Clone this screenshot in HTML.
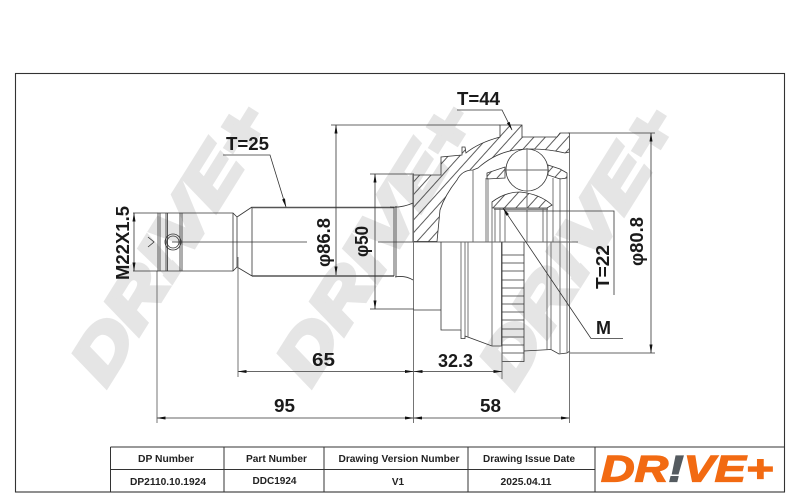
<!DOCTYPE html>
<html><head><meta charset="utf-8">
<style>
html,body{margin:0;padding:0;background:#fff;width:800px;height:493px;overflow:hidden}
svg{display:block}
text{font-family:"Liberation Sans",sans-serif}
.l{stroke:#333;stroke-width:.8}
.n{fill:none}
.g{fill:none;stroke:#666;stroke-width:.9}
.d{fill:none;stroke:#333;stroke-width:.8}
.t{font-size:18.5px;font-weight:bold;fill:#1a1a1a}
.c{font-size:10px;font-weight:bold;fill:#222;text-anchor:middle}
.w{font-size:65px;font-weight:bold;font-style:italic;fill:#e5e5e5;stroke:#e5e5e5;stroke-width:5}
</style></head><body>
<svg width="800" height="493" viewBox="0 0 800 493" xmlns="http://www.w3.org/2000/svg">
<defs>
<marker id="a" markerUnits="userSpaceOnUse" markerWidth="9" markerHeight="6" refX="8.5" refY="2.5" orient="auto-start-reverse"><path d="M0 1L9 2.5L0 4z" fill="#111"/></marker>
<pattern id="h" patternUnits="userSpaceOnUse" width="8.5" height="8.5" patternTransform="rotate(-48)"><path d="M0 4H8.5" stroke="#333" stroke-width=".8"/></pattern>
</defs>

<!-- watermarks -->
<text class="w" transform="translate(106,387) rotate(-58)" textLength="312" lengthAdjust="spacingAndGlyphs">DR!VE+</text>
<text class="w" transform="translate(311,387) rotate(-58)" textLength="312" lengthAdjust="spacingAndGlyphs">DR!VE+</text>
<text class="w" transform="translate(514,390) rotate(-58)" textLength="312" lengthAdjust="spacingAndGlyphs">DR!VE+</text>

<!-- frame -->
<rect x="15.500" y="73.500" width="769" height="418.500" fill="none" stroke="#333" stroke-width="1.1"/>

<!-- stud -->
<path class="g" d="M172 242H307M378 242H578"/>
<path class="l n" d="M158 213H233L237 217V267L233 271H158ZM160 213V271M166 213V271M167.500 213V271M180 213V271M182 213V271M233 213V271M237 217L252 207M237 267L252 276M252 207V276M148 237L154 242L148 247"/>
<circle cx="173" cy="242" r="8" class="l n"/>
<circle cx="173" cy="242" r="6" class="l n"/>
<path d="M252 207.500H394M252 276H394" fill="none" stroke="#555" stroke-width="1.6"/>
<path class="l n" d="M394 207V276M396 206V277"/>
<path class="l n" d="M390 207Q402 208 413 203M395 277Q405 275 413 280"/>

<!-- housing hatching -->
<path style="fill:url(#h)" class="l" d="M413 175H441V157L462 155V147H465L466 153Q478 143 500 137V125H522V137H557L560 133H569.500V152L565 153Q540 147 515 150Q495 153 478 168L473 170Q462 170 457 180Q445 195 440 210L437 241.500H413Z"/>
<path style="fill:url(#h)" class="l" d="M487 179V173L505 167V178L487 179Z"/>
<path style="fill:url(#h)" class="l" d="M548 165L560 169L567 173V178L560 179L548 175Z"/>
<path style="fill:url(#h)" class="l" d="M492 202Q505 192 520 192Q540 194 552 205L547 208H492Z"/>
<circle cx="527" cy="170" r="21" style="fill:#fff" class="l"/>
<path class="g" d="M527 148V242M505 170H549"/>
<path d="M494 209H548" stroke="#888" stroke-width="2" fill="none"/>
<path class="g" d="M473 170V242M486 178V242M488 178V242M492 208V242M495 208V242M500 208V242M505 208V242M543 208V242M547 208V242M553 178V242M560 178V242M567 178V242"/>

<!-- lower housing -->
<path class="l n" d="M413 310H441M441 242V330H461V338.500H465V336L492 346H502"/>
<path class="g" d="M461 242V330M465 242V336M468 242V337M492 242V346M501.500 242V346"/>
<path class="l n" d="M502 242V361.500H524V242"/>
<path class="l n" d="M502 255H524M502 263H524M502 271H524M502 280H524M502 288H524M502 296H524M502 304H524M502 312H524M502 320H524M502 329H524M502 337H524M502 345H524M502 353H524"/>
<path class="l n" d="M524 351L551 349.500L559 354L567 353L570 351"/>
<path class="g" d="M551 242V350M560 242V354M547 242V350M567 242V353"/>

<!-- extensions -->
<path class="g" d="M157 271V423M238 257V377M413.500 175V423M502 346V379M569.500 133V423"/>
<path class="d" d="M133 213H158M133 271H158M331 125H500M370 174H414M370 309H414M568 133H655M570 353H655"/>

<!-- dimensions -->
<path class="d" marker-start="url(#a)" marker-end="url(#a)" d="M134 213V271"/>
<path class="d" marker-start="url(#a)" marker-end="url(#a)" d="M336 125V275"/>
<path class="d" marker-start="url(#a)" marker-end="url(#a)" d="M375 174V309"/>
<path class="d" marker-start="url(#a)" marker-end="url(#a)" d="M651 133V353"/>
<path class="g" marker-start="url(#a)" marker-end="url(#a)" d="M238 371.500H413.500"/>
<path class="g" d="M413.500 371.500H502" marker-end="url(#a)"/>
<path d="M413.500 371.500L422.500 370V373Z" fill="#111"/>
<path class="g" marker-start="url(#a)" marker-end="url(#a)" d="M157 418H413.500"/>
<path class="g" marker-start="url(#a)" marker-end="url(#a)" d="M413.500 418H569.500"/>

<!-- leaders -->
<path class="d" marker-end="url(#a)" d="M223 155H270L286 207"/>
<path class="d" marker-end="url(#a)" d="M457 110H502L512 130"/>
<path class="d" d="M505 211H614V295"/>
<path class="d" marker-start="url(#a)" d="M503 208L591 338.500H623"/>

<!-- labels -->
<text class="t" x="226" y="150" textLength="43" lengthAdjust="spacingAndGlyphs">T=25</text>
<text class="t" x="457" y="105" textLength="43" lengthAdjust="spacingAndGlyphs">T=44</text>
<text class="t" transform="translate(129,280) rotate(-90)" textLength="74" lengthAdjust="spacingAndGlyphs">M22X1.5</text>
<text class="t" transform="translate(330,267) rotate(-90)" textLength="49" lengthAdjust="spacingAndGlyphs">φ86.8</text>
<text class="t" transform="translate(368,257) rotate(-90)" textLength="31" lengthAdjust="spacingAndGlyphs">φ50</text>
<text class="t" transform="translate(609,289) rotate(-90)" textLength="44" lengthAdjust="spacingAndGlyphs">T=22</text>
<text class="t" transform="translate(643,266) rotate(-90)" textLength="49" lengthAdjust="spacingAndGlyphs">φ80.8</text>
<text class="t" x="596" y="334" textLength="15" lengthAdjust="spacingAndGlyphs">M</text>
<text class="t" x="312" y="366" textLength="23" lengthAdjust="spacingAndGlyphs">65</text>
<text class="t" x="438" y="367" textLength="35" lengthAdjust="spacingAndGlyphs">32.3</text>
<text class="t" x="274" y="412" textLength="21" lengthAdjust="spacingAndGlyphs">95</text>
<text class="t" x="480" y="412" textLength="21" lengthAdjust="spacingAndGlyphs">58</text>

<!-- title block -->
<path fill="none" stroke="#333" stroke-width="1" d="M110.500 447H784.500M110.500 447V492M110.500 469.500H595M224 447V492M324 447V492M468 447V492M595 447V492"/>
<text class="c" x="166" y="462" textLength="56" lengthAdjust="spacingAndGlyphs">DP Number</text>
<text class="c" x="276.500" y="462" textLength="61" lengthAdjust="spacingAndGlyphs">Part Number</text>
<text class="c" x="399" y="462" textLength="121" lengthAdjust="spacingAndGlyphs">Drawing Version Number</text>
<text class="c" x="529" y="462" textLength="92" lengthAdjust="spacingAndGlyphs">Drawing Issue Date</text>
<text class="c" x="168" y="485" textLength="76" lengthAdjust="spacingAndGlyphs">DP2110.10.1924</text>
<text class="c" x="274.500" y="484" textLength="44" lengthAdjust="spacingAndGlyphs">DDC1924</text>
<text class="c" x="398" y="485">V1</text>
<text class="c" x="526" y="485" textLength="51" lengthAdjust="spacingAndGlyphs">2025.04.11</text>

<!-- logo -->
<text x="601" y="481.500" font-size="37" font-weight="bold" font-style="italic" fill="#f26a12" stroke="#f26a12" stroke-width="1.3" textLength="172" lengthAdjust="spacingAndGlyphs">DR<tspan fill="#555b60" stroke="#555b60">!</tspan>VE+</text>
</svg>
</body></html>
